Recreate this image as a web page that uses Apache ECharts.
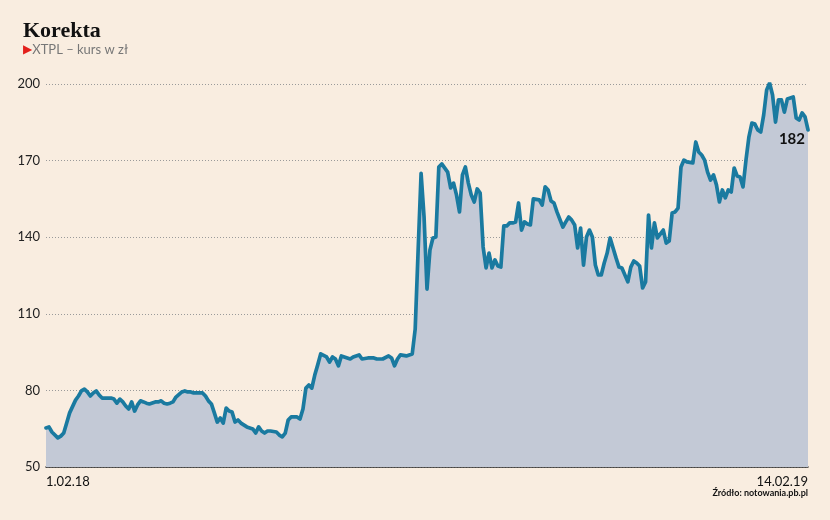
<!DOCTYPE html>
<html>
<head>
<meta charset="utf-8">
<script src="https://cdn.jsdelivr.net/npm/echarts@6/dist/echarts.min.js"></script>
<style>
html,body{margin:0;padding:0;background:#f9ede0;}
#chart{width:830px;height:520px;}
</style>
</head>
<body>
<div id="chart"></div>
<script>
// Trading-day index (from 1.02.18) and XTPL price (zł)
const days = [0,1,2,4,5,6,7,8,10,11,12,13,14,15,16,17,18,19,20,22,23,24,25,26,27,28,29,30,31,32,33,34,35,37,38,39,40,41,42,43,44,46,47,48,49,50,51,53,54,55,56,57,58,59,60,61,62,63,64,65,66,68,69,70,71,72,73,74,75,76,78,79,80,81,82,83,85,86,87,88,89,90,91,92,93,95,96,97,98,99,100,101,102,103,104,106,107,109,111,112,114,116,117,118,119,120,122,124,125,126,127,128,129,130,131,132,133,134,136,137,138,139,140,141,142,143,144,145,146,147,148,149,150,151,152,153,154,155,156,157,158,159,160,161,162,163,164,165,167,168,169,170,171,172,173,175,176,177,178,179,180,181,182,183,184,185,186,187,188,189,190,191,192,193,194,195,197,198,199,200,201,202,203,204,205,206,207,209,210,211,212,213,214,215,216,217,219,220,221,222,223,224,225,226,227,228,229,230,231,232,233,234,235,236,237,238,239,240,241,242,243,244,245,246,247,248,249,250,251,252,253,254,255,256,257,258];
const prices = [65.3,65.7,63.7,61.4,62.1,63.3,67.2,71.2,76.2,77.8,79.8,80.5,79.4,77.8,79,79.8,78.2,77,77,77,76.6,75,76.6,75.5,73.9,72.7,75.5,71.9,74.3,75.9,75.5,75,74.7,75.5,75.5,75.9,75,74.7,75,75.5,77.4,79.4,79.8,79.4,79.4,79,79,79,77.8,75.9,74.7,71.2,67.6,69.2,67.2,73.1,71.9,71.5,67.6,68.4,67.2,65.7,65.3,64.9,63.3,65.7,64.1,63.3,64.1,64.1,63.7,62.5,61.8,63.3,68.4,69.6,69.6,68.8,72.7,80.9,82.1,80.9,86,90,94.3,93.1,91.1,93.1,92.3,89.6,93.5,93.1,92.7,92.3,93.1,93.9,92.3,92.7,92.7,92.3,92.3,93.5,92.7,89.6,92.3,93.9,93.5,94.3,104,135,165,148,119.7,135,139.7,140.1,167.5,168.7,165.5,159.3,161.2,156.5,149.9,164.4,167.5,161.2,156.5,153.8,158.9,157.3,136.2,128,133.8,128,131.1,128.7,128.3,144.4,144.4,145.6,145.6,146,153.4,142.8,146,145.2,144.8,155,154.6,152.6,159.7,158.5,154.2,153.4,149.9,144,146,147.9,146.7,144.8,135.8,143.6,129.1,140.1,142.8,140.1,129.1,125.2,125.2,129.9,133.8,139.7,135.8,131.9,128.3,127.9,122.5,128.3,130.7,129.9,128.7,120.1,122.5,148.7,135.8,145.6,139.7,142.8,137.7,138.5,149.5,149.9,151.4,167.5,170.2,169.5,169.1,177.3,173.4,172.2,170.2,165.5,162.4,164.4,160.5,153.8,158.5,155.4,158.5,157.7,167.1,164,163.6,159.7,170.2,179.3,184.7,184.3,182,181.2,187.9,197.7,200.4,195.7,185.1,193.8,193.8,189,194.1,194.5,194.9,186.7,185.9,188.7,187.1,182];
const xLabels = ['1.02.18', '14.02.19'];
const yMin = 50, yMax = 200, yStep = 30;
const titleText = 'Korekta';
const subtitleText = 'XTPL – kurs w zł';
const sourceText = 'Źródło: notowania.pb.pl';

const lastIdx = days[days.length - 1];
const seriesData = days.map((d, i) => [d, prices[i]]);

const chart = echarts.init(document.getElementById('chart'), null, { renderer: 'canvas' });
chart.setOption({
  backgroundColor: '#f9ede0',
  animation: false,
  title: [
    {
      text: titleText,
      left: 18, top: 15,
      textStyle: { fontFamily: 'Liberation Serif', fontWeight: 'bold', fontSize: 22, color: '#111' },
      subtext: '{a|▶}{b|' + subtitleText + '}',
      itemGap: 1,
      subtextStyle: {
        rich: {
          a: { color: '#e3201b', fontSize: 12, fontFamily: 'DejaVu Sans' },
          b: { color: '#777', fontSize: 13, fontFamily: 'Lato' }
        }
      }
    },
    {
      text: sourceText,
      right: 22, top: 489,
      padding: 0,
      textStyle: { fontFamily: 'Lato', fontWeight: 'bold', fontSize: 9, color: '#111' }
    }
  ],
  grid: { left: 46, right: 22, top: 84, bottom: 53, containLabel: false },
  xAxis: {
    type: 'value',
    min: 0, max: lastIdx, interval: lastIdx,
    axisLine: { show: true, lineStyle: { color: '#2a2a2a', width: 1.5 } },
    axisTick: { show: false },
    splitLine: { show: false },
    axisLabel: {
      margin: 8,
      color: '#111',
      fontFamily: 'Lato',
      fontSize: 13,
      alignMinLabel: 'left',
      alignMaxLabel: 'right',
      formatter: v => (v === 0 ? xLabels[0] : (v === lastIdx ? xLabels[1] : ''))
    }
  },
  yAxis: {
    type: 'value',
    min: yMin, max: yMax, interval: yStep,
    axisLine: { show: false },
    axisTick: { show: false },
    axisLabel: { color: '#222', fontFamily: 'Lato', fontSize: 13, margin: 6 },
    splitLine: { show: true, lineStyle: { color: '#9a9a9a', type: [1, 2], width: 1 } }
  },
  series: [{
    type: 'line',
    data: seriesData,
    showSymbol: false,
    symbol: 'none',
    lineStyle: { color: '#1a7aa0', width: 3.7, join: 'round', cap: 'round' },
    areaStyle: { color: '#c3c9d6', opacity: 1, origin: 'start' },
    endLabel: {
      show: true,
      formatter: p => String(Math.round(p.value[1])),
      distance: 0,
      align: 'right',
      offset: [-3, 9],
      color: '#111',
      fontFamily: 'Lato',
      fontWeight: 'bold',
      fontSize: 15
    },
    z: 3
  }]
});
</script>
</body>
</html>
